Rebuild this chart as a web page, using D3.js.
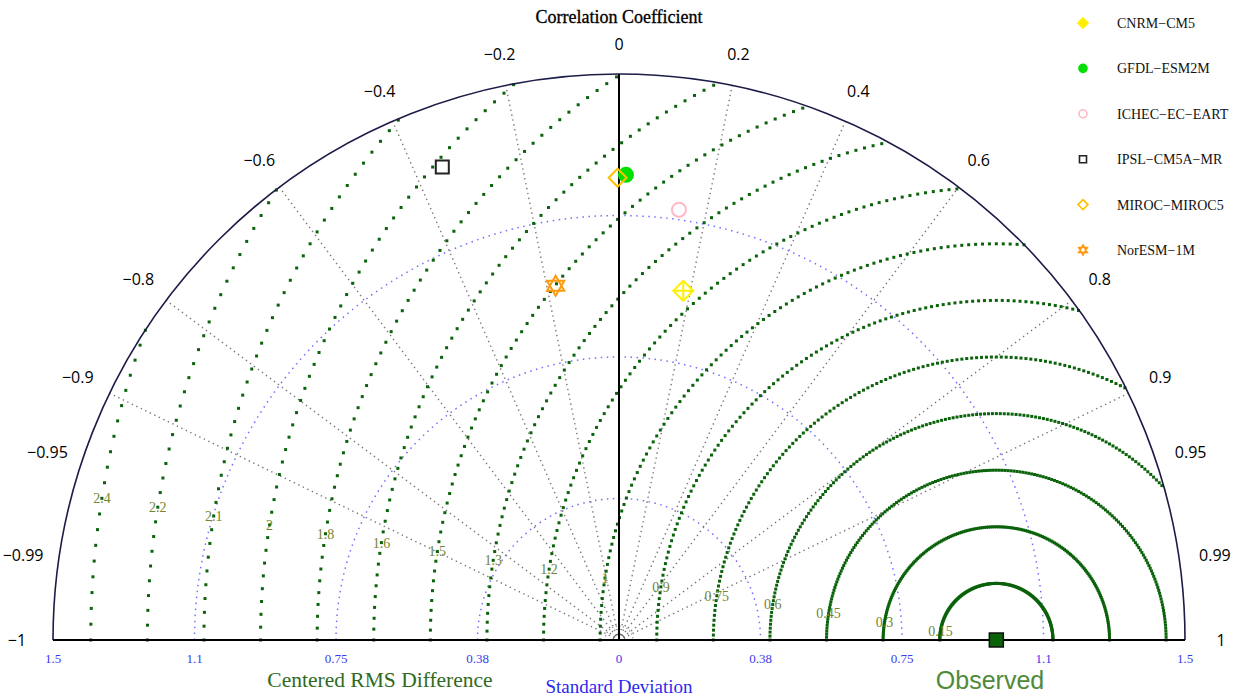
<!DOCTYPE html>
<html>
<head>
<meta charset="utf-8">
<script src="https://cdn.jsdelivr.net/npm/d3@7"></script>
<style>
  body { margin: 0; background: #fff; }
  svg { display: block; font-family: "Liberation Serif", "DejaVu Serif", serif; }
</style>
</head>
<body>
<div id="chart"></div>
<script>
// model names, standard deviations and correlations
const models = ["CNRM−CM5", "GFDL−ESM2M", "ICHEC−EC−EART", "IPSL−CM5A−MR", "MIROC−MIROC5", "NorESM−1M"];
const modelSD = [0.941, 1.233, 1.151, 1.338, 1.225, 0.954];
const modelCorr = [0.181, 0.015, 0.138, -0.350, -0.003, -0.176];
const observedSD = 1.0;

const corrTicks = [-1, -0.99, -0.95, -0.9, -0.8, -0.6, -0.4, -0.2, 0, 0.2, 0.4, 0.6, 0.8, 0.9, 0.95, 0.99, 1];
const corrLines = [-0.9, -0.8, -0.6, -0.4, -0.2, 0.2, 0.4, 0.6, 0.8, 0.9];
const sdTicks = [0, 0.375, 0.75, 1.125, 1.5];
const sdTickLabels = ["0", "0.38", "0.75", "1.1", "1.5"];
const rmsLevels = [0.15, 0.3, 0.45, 0.6, 0.75, 0.9, 1.05, 1.2, 1.35, 1.5, 1.65, 1.8, 1.95, 2.1, 2.25, 2.4];
const rmsLabels = ["0.15", "0.3", "0.45", "0.6", "0.75", "0.9", "1", "1.2", "1.3", "1.5", "1.6", "1.8", "2", "2.1", "2.2", "2.4"];

// marker look per model (not data)
const markerShape = ["diamondPlus", "circle", "circle", "square", "diamond", "star"];
const legendShape = ["diamond", "circle", "circle", "square", "diamond", "star"];
const markerFill = ["none", "#00e000", "none", "none", "none", "none"];
const legendFill = ["#ffee00", "#00e000", "none", "none", "none", "none"];
const markerColor = ["#fff000", "#00e000", "#ffb8c4", "#222222", "#ffc000", "#ff9a10"];

const W = 1240, H = 698;
const cx = 619, cy = 640, R = 566;

const svg = d3.select("#chart").append("svg")
    .attr("width", W)
    .attr("height", H);

const r = d3.scaleLinear().domain([0, 1.5]).range([0, R]);

function polar(sd, c) {
  var a = Math.acos(c);
  return [cx + r(sd) * Math.cos(a), cy - r(sd) * Math.sin(a)];
}

function halfCircle(rad) {
  var p = d3.path();
  p.arc(cx, cy, rad, Math.PI, 2 * Math.PI);
  return p.toString();
}

function shapePath(type, s) {
  if (type == "diamond") return `M0,${-s}L${s},0L0,${s}L${-s},0Z`;
  if (type == "diamondPlus") return `M0,${-s}L${s},0L0,${s}L${-s},0ZM${-s},0H${s}M0,${-s}V${s}`;
  if (type == "square") return `M${-s},${-s}H${s}V${s}H${-s}Z`;
  if (type == "circle") return `M${s},0A${s},${s} 0 1,1 ${-s},0A${s},${s} 0 1,1 ${s},0Z`;
  if (type == "star") {
    var h = s * 0.866;
    return `M0,${-s}L${h},${s / 2}L${-h},${s / 2}ZM0,${s}L${h},${-s / 2}L${-h},${-s / 2}Z`;
  }
}

// radial correlation lines
corrLines.forEach(function(c) {
  var p = polar(1.5, c);
  svg.append("line")
    .attr("x1", cx).attr("y1", cy)
    .attr("x2", p[0]).attr("y2", p[1])
    .style("stroke", "#777")
    .style("stroke-width", 1.4)
    .style("stroke-dasharray", "1.4,3.6");
});

// standard deviation arcs
svg.selectAll(".sdarc")
  .data(sdTicks.filter(v => v > 0 && v < 1.5))
  .enter().append("path")
    .attr("class", "sdarc")
    .attr("d", d => halfCircle(r(d)))
    .style("fill", "none")
    .style("stroke", "#7070ff")
    .style("stroke-width", 1.5)
    .style("stroke-dasharray", "1.5,4.5");

// small arcs at the origin
svg.append("path")
  .attr("d", halfCircle(14))
  .style("fill", "none")
  .style("stroke", "#888")
  .style("stroke-width", 1.2)
  .style("stroke-dasharray", "1.2,2.5");
svg.append("path")
  .attr("d", halfCircle(6))
  .style("fill", "none")
  .style("stroke", "#666")
  .style("stroke-width", 1);

// centered RMS difference arcs, one dot per degree around the observed point
var ox = cx + r(observedSD);
var rmsDots = [];
rmsLevels.forEach(function(g) {
  d3.range(0, 181).forEach(function(deg) {
    var a = deg * Math.PI / 180;
    var x = ox - r(g) * Math.cos(a), y = cy - r(g) * Math.sin(a);
    if (Math.hypot(x - cx, y - cy) <= R) rmsDots.push([x, y]);
  });
});
svg.append("g").selectAll("rect")
  .data(rmsDots)
  .enter().append("rect")
    .attr("x", d => d[0] - 1.5)
    .attr("y", d => d[1] - 1.5)
    .attr("width", 3)
    .attr("height", 3)
    .style("fill", "#0a620a");

// rms labels at 9 degrees on each arc
var la = 9 * Math.PI / 180;
svg.selectAll(".rmslab")
  .data(rmsLevels)
  .enter().append("text")
    .attr("class", "rmslab")
    .attr("x", d => ox - r(d) * Math.cos(la))
    .attr("y", d => cy - r(d) * Math.sin(la))
    .attr("dy", "0.35em")
    .attr("text-anchor", "middle")
    .style("font-size", "14px")
    .style("fill", "#74852e")
    .text((d, i) => rmsLabels[i]);

// outer circle, zero-correlation line and base line
svg.append("path")
  .attr("d", halfCircle(R))
  .style("fill", "none")
  .style("stroke", "#1c1c48")
  .style("stroke-width", 1.6);

svg.append("line")
  .attr("x1", cx).attr("y1", cy)
  .attr("x2", cx).attr("y2", cy - R)
  .style("stroke", "#000")
  .style("stroke-width", 2);

svg.append("line")
  .attr("x1", cx - R).attr("y1", cy)
  .attr("x2", cx + R).attr("y2", cy)
  .style("stroke", "#000")
  .style("stroke-width", 2);

// correlation labels
svg.selectAll(".corrlab")
  .data(corrTicks)
  .enter().append("text")
    .attr("class", "corrlab")
    .attr("x", d => cx + (596 + 6 * Math.abs(d)) * d)
    .attr("y", d => cy - (596 + 6 * Math.abs(d)) * Math.sqrt(1 - d * d))
    .attr("dy", "0.35em")
    .attr("text-anchor", "middle")
    .style("font-family", "'Open Sans', 'Noto Sans', sans-serif")
    .style("font-size", "16px")
    .style("fill", "#000")
    .text(d => d < 0 ? "−" + Math.abs(d) : d);

svg.append("text")
  .attr("x", cx).attr("y", 23)
  .attr("text-anchor", "middle")
  .style("font-size", "18px")
  .style("stroke", "#000")
  .style("stroke-width", 0.3)
  .text("Correlation Coefficient");

// standard deviation tick labels on both sides
var sdLab = [];
sdTicks.forEach(function(v, i) {
  sdLab.push({x: cx + r(v), t: sdTickLabels[i]});
  if (v > 0) sdLab.push({x: cx - r(v), t: sdTickLabels[i]});
});
svg.selectAll(".sdlab")
  .data(sdLab)
  .enter().append("text")
    .attr("class", "sdlab")
    .attr("x", d => d.x)
    .attr("y", 663)
    .attr("text-anchor", "middle")
    .style("font-size", "13px")
    .style("fill", "#3a3af0")
    .text(d => d.t);

svg.append("text")
  .attr("x", 380).attr("y", 687)
  .attr("text-anchor", "middle")
  .style("font-size", "21.5px")
  .style("fill", "#2f6a22")
  .text("Centered RMS Difference");

svg.append("text")
  .attr("x", cx).attr("y", 693)
  .attr("text-anchor", "middle")
  .style("font-size", "19px")
  .style("fill", "#2a2aee")
  .text("Standard Deviation");

svg.append("text")
  .attr("x", 990).attr("y", 689)
  .attr("text-anchor", "middle")
  .style("font-family", "'Liberation Sans', Arial, sans-serif")
  .style("font-size", "25px")
  .style("fill", "#4e8a3a")
  .text("Observed");

// observed point
svg.append("rect")
  .attr("x", ox - 7).attr("y", cy - 7)
  .attr("width", 14).attr("height", 14)
  .style("fill", "#0a620a")
  .style("stroke", "#111")
  .style("stroke-width", 1.5);

// model points
var markerSize = {diamondPlus: 10, circle: 7, square: 6.5, diamond: 9, star: 10};
svg.selectAll(".model")
  .data(models)
  .enter().append("path")
    .attr("class", "model")
    .attr("transform", (d, i) => "translate(" + polar(modelSD[i], modelCorr[i]) + ")")
    .attr("d", (d, i) => shapePath(markerShape[i], markerSize[markerShape[i]]))
    .style("fill", (d, i) => markerFill[i])
    .style("stroke", (d, i) => markerColor[i])
    .style("stroke-width", 2);

// legend
var legendY = d3.scalePoint().domain(models).range([23, 250]);
var lg = svg.selectAll(".legend")
  .data(models)
  .enter().append("g")
    .attr("class", "legend")
    .attr("transform", d => "translate(1083," + legendY(d) + ")");

var legendSize = {circle: 4, square: 3.5, diamond: 5, star: 5};
lg.append("path")
  .attr("d", (d, i) => shapePath(legendShape[i], legendSize[legendShape[i]]))
  .style("fill", (d, i) => legendFill[i])
  .style("stroke", (d, i) => markerColor[i])
  .style("stroke-width", 1.6);

lg.append("text")
  .attr("x", 34)
  .attr("dy", "0.35em")
  .style("font-size", "14px")
  .style("fill", "#111")
  .text(d => d);
</script>
</body>
</html>
